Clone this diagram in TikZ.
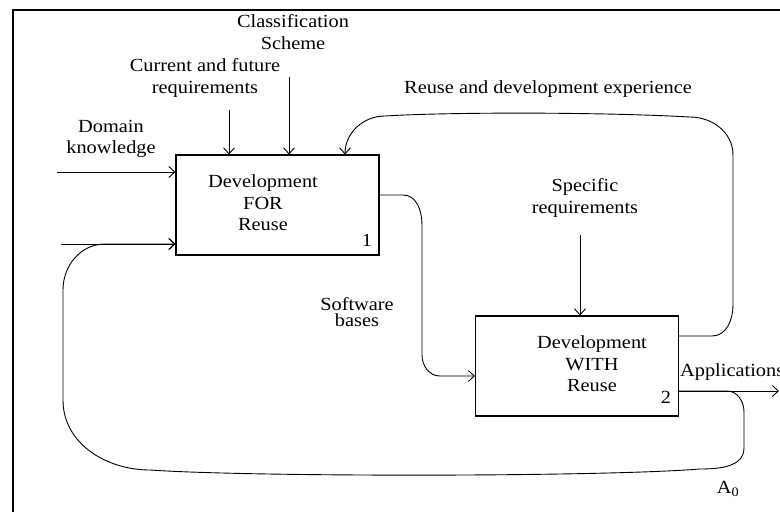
\documentclass[tikz,border=0pt]{standalone}
\usepackage{fontspec}
\setmainfont{Liberation Serif}[FakeStretch=1.1]
\usetikzlibrary{arrows.meta}
\begin{document}
\begin{tikzpicture}[x=1pt,y=1pt,
  every node/.style={font=\fontsize{18.5}{21.5}\selectfont, inner sep=0pt},
  box/.style={draw, line width=1.1pt, minimum width=203pt, minimum height=100pt},
  lbl/.style={align=center},
  conn/.style={line width=0.9pt},
  arr/.style={conn, -{Straight Barb[length=6pt,width=11pt]}}]
\useasboundingbox (0,0) rectangle (780,-512);
\draw[line width=1.6pt] (13,-512) -- (13,-10) -- (780,-10);

\node[box] (b1) at (277.5,-205) {};
\node[lbl] (b1t) at (263,-203) {Development\\FOR\\Reuse};
\node (n1) at (367,-240) {1};
\node[box] (b2) at (577,-366) {};
\node[lbl] (b2t) at (592,-364) {Development\\WITH\\Reuse};
\node (n2) at (666,-397) {2};

\node[lbl] (cls) at (293,-32) {Classification\\Scheme};
\node[lbl] (cur) at (205,-78) {Current and future\\requirements};
\node[lbl] (dom) at (111,-139) {Domain\\knowledge};
\node[lbl] (reu) at (548,-89) {Reuse and development experience};
\node[lbl] (spec) at (585,-198) {Specific\\requirements};
\node[lbl, font=\fontsize{18.5}{16}\selectfont] (sw) at (357,-312) {Software\\bases};
\node[anchor=west] (app) at (680,-372) {Applications};
\node (a0) at (728,-489) {A\textsubscript{0}};

% controls from top
\coordinate (curS) at (229,-110);
\coordinate (clsS) at (289,-77);
\draw[arr] (curS) -- (curS |- b1.north);
\draw[arr] (clsS) -- (clsS |- b1.north);
% domain knowledge
\coordinate (dIn) at (57,-172);
\draw[arr] (dIn) -- (dIn -| b1.west);
\coordinate (lIn) at (61,-244);
\draw[arr] (lIn) -- (lIn -| b1.west);
% specific requirements
\coordinate (spS) at (580,-235);
\draw[arr] (spS) -- (spS |- b2.north);
% software bases
\coordinate (swA) at (0,-195);
\coordinate (swB) at (0,-376);
\draw[arr] (swA -| b1.east) -- (403,-195) to[out=0,in=90] (422,-225)
  -- (422,-355) to[out=-90,in=180] (440,-376) -- (swB -| b2.west);
% reuse and development experience
\coordinate (rA) at (0,-336);
\coordinate (rB) at (345,0);
\draw[arr] (rA -| b2.east) -- (712,-336) to[out=0,in=-90] (733,-305)
  -- (733,-155) to[out=90,in=0] (690,-117) .. controls (600,-112) and (450,-112) .. (385,-116)
  to[out=180,in=90] (rB |- b1.north);
% applications
\coordinate (apA) at (0,-391);
\coordinate (apE) at (779,-391);
\draw[arr] (apA -| b2.east) -- (apE);
% feedback loop
\draw[arr] (apA -| b2.east) -- (727,-391) to[out=0,in=90] (744,-412)
  -- (744,-448) to[out=-90,in=0] (700,-469)
  .. controls (600,-477) and (250,-477) .. (150,-470)
  to[out=180,in=-90] (63,-400) -- (63,-290) to[out=90,in=180] (105,-244)
  -- (lIn -| b1.west);
\end{tikzpicture}
\end{document}
